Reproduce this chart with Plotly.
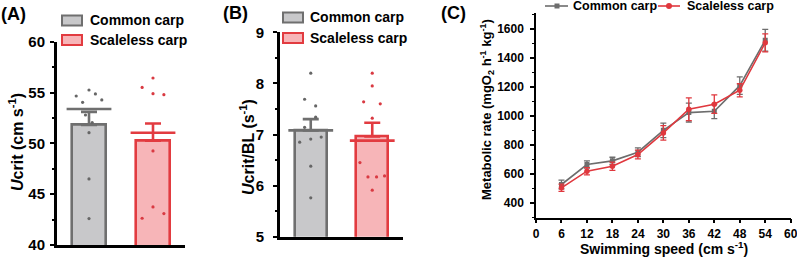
import plotly.graph_objects as go

W, H = 797, 257
FONT = "Arial, Liberation Sans, sans-serif"

# ---------------- data ----------------
groups = ["Common carp", "Scaleless carp"]

ucrit_mean = [51.8, 50.25]
ucrit_se = [1.3, 1.7]
ucrit_line = [53.38, 51.05]
ucrit_common_pts = [54.66, 55.25, 54.86, 54.04, 54.27, 52.79, 52.04, 51.05, 46.5, 42.6]
ucrit_scaleless_pts = [56.43, 55.5, 54.89, 54.79, 49.25, 43.75, 42.63, 43.09]

bl_mean = [7.08, 6.96]
bl_se = [0.22, 0.27]
bl_line = [7.08, 6.88]
bl_common_pts = [8.20, 7.69, 7.56, 7.34, 7.14, 6.85, 6.91, 6.95, 6.38, 5.76]
bl_scaleless_pts = [8.20, 7.95, 7.64, 7.60, 7.32, 6.45, 6.17, 6.17, 6.19, 5.91]

speeds = [6, 12, 18, 24, 30, 36, 42, 48, 54]
mr_common = [529, 667, 692, 752, 903, 1025, 1034, 1211, 1524]
mr_common_se = [30, 25, 25, 30, 50, 65, 50, 60, 75]
mr_scaleless = [506, 621, 655, 736, 885, 1048, 1083, 1179, 1506]
mr_scaleless_se = [25, 25, 28, 30, 50, 78, 64, 45, 62]

# horizontal jitter of individual points (category units)
jit_a_common = [-0.2, 0, 0.1, -0.1, 0.2, -0.055, 0.05, 0, 0, 0]
jit_a_scaleless = [0, -0.17, 0, 0.17, 0, 0, -0.17, 0.17]
jit_b_common = [0, -0.1, 0.08, 0.08, -0.1, -0.18, 0, 0.17, 0, 0]
jit_b_scaleless = [0, 0, -0.14, 0.13, 0, -0.2, -0.07, 0.07, 0.2, 0]

# ---------------- styles ----------------
GRAY_FILL, GRAY_LINE, GRAY_PT = "#c8c8ca", "#6f6f6f", "#666666"
RED_FILL, RED_LINE, RED_PT = "#f7b5b8", "#e23b40", "#d93a42"
fills = [GRAY_FILL, RED_FILL]
lines = [GRAY_LINE, RED_LINE]

def px_x(p):
    return p / W

def px_y(p):
    return 1 - p / H

fig = go.Figure()

def bar_panel(xa, ya, means, ses, wide, pts_c, pts_s, jit_c, jit_s):
    for i in range(2):
        fig.add_trace(go.Bar(
            x=[i], y=[means[i]], width=0.52, xaxis=xa, yaxis=ya,
            marker=dict(color=fills[i], line=dict(color=lines[i], width=2.6)),
            error_y=dict(type="data", symmetric=False, array=[ses[i]], arrayminus=[0],
                         color=lines[i], thickness=2.6, width=8),
            showlegend=False))
        fig.add_trace(go.Scatter(
            x=[i], y=[wide[i]], xaxis=xa, yaxis=ya, mode="markers",
            marker=dict(symbol="line-ew", size=32, line=dict(color=lines[i], width=2.6)),
            showlegend=False, cliponaxis=False))
    fig.add_trace(go.Scatter(
        x=[0 + j for j in jit_c], y=pts_c, xaxis=xa, yaxis=ya, mode="markers",
        marker=dict(color=GRAY_PT, size=3.2), showlegend=False, cliponaxis=False))
    fig.add_trace(go.Scatter(
        x=[1 + j for j in jit_s], y=pts_s, xaxis=xa, yaxis=ya, mode="markers",
        marker=dict(color=RED_PT, size=3.2), showlegend=False, cliponaxis=False))

bar_panel("x", "y", ucrit_mean, ucrit_se, ucrit_line,
          ucrit_common_pts, ucrit_scaleless_pts, jit_a_common, jit_a_scaleless)
bar_panel("x2", "y2", bl_mean, bl_se, bl_line,
          bl_common_pts, bl_scaleless_pts, jit_b_common, jit_b_scaleless)

# Panel C
fig.add_trace(go.Scatter(
    x=speeds, y=mr_common, xaxis="x3", yaxis="y3", mode="lines+markers",
    line=dict(color="#6d6d6d", width=1.6),
    marker=dict(symbol="square", size=5, color="#6d6d6d"),
    error_y=dict(type="data", array=mr_common_se, color="#6d6d6d", thickness=1.3, width=3),
    showlegend=False))
fig.add_trace(go.Scatter(
    x=speeds, y=mr_scaleless, xaxis="x3", yaxis="y3", mode="lines+markers",
    line=dict(color="#e0383e", width=1.6),
    marker=dict(symbol="circle", size=5.5, color="#e0383e"),
    error_y=dict(type="data", array=mr_scaleless_se, color="#e0383e", thickness=1.3, width=3),
    showlegend=False))

tickfont_big = dict(family=FONT, size=15, color="black", weight="bold")
tickfont_small = dict(family=FONT, size=12, color="black", weight="bold")

def cat_x(domain, anchor):
    return dict(domain=domain, range=[-0.5, 1.5], showline=True, linewidth=3,
                linecolor="black", showticklabels=False, ticks="", showgrid=False,
                zeroline=False, fixedrange=True, automargin=False, anchor=anchor)

fig.update_layout(
    template="none",
    width=W, height=H, margin=dict(l=0, r=0, t=0, b=0, autoexpand=False),
    paper_bgcolor="white", plot_bgcolor="white", bargap=0, showlegend=False,
    font=dict(family=FONT, color="black"),
    xaxis=cat_x([px_x(57), px_x(185)], "y"),
    yaxis=dict(domain=[px_y(245), px_y(41.7)], range=[40, 60], tickvals=[40, 45, 50, 55, 60],
               anchor="x", automargin=False,
               showline=True, linewidth=3, linecolor="black", ticks="outside", ticklen=4,
               tickwidth=2, tickcolor="black", tickfont=tickfont_big, showgrid=False,
               zeroline=False, ticklabelstandoff=2,
               minor=dict(dtick=2.5, ticks="outside", ticklen=2, tickwidth=1.5, tickcolor="black")),
    xaxis2=cat_x([px_x(280), px_x(403)], "y2"),
    yaxis2=dict(domain=[px_y(236.7), px_y(32.3)], range=[5, 9], tickvals=[5, 6, 7, 8, 9],
                anchor="x2", automargin=False, showline=True, linewidth=3, linecolor="black",
                ticks="outside", ticklen=4, tickwidth=2, tickcolor="black", tickfont=tickfont_big,
                showgrid=False, zeroline=False, ticklabelstandoff=6,
                minor=dict(dtick=0.5, ticks="outside", ticklen=2, tickwidth=1.5, tickcolor="black")),
    xaxis3=dict(domain=[px_x(536), px_x(790.7)], range=[0, 60], tickvals=list(range(0, 61, 6)),
                anchor="y3", automargin=False, ticklabeloverflow="allow",
                showline=True, linewidth=1.5, linecolor="black", ticks="outside",
                ticklen=4, tickwidth=1.5, tickcolor="black", tickfont=tickfont_small,
                showgrid=False, zeroline=False),
    yaxis3=dict(domain=[px_y(217.7), px_y(13.3)], range=[300, 1710],
                tickvals=[400, 600, 800, 1000, 1200, 1400, 1600], anchor="x3", automargin=False,
                showline=True, linewidth=1.5, linecolor="black", ticks="outside", ticklen=4,
                tickwidth=1.5, tickcolor="black", tickfont=tickfont_small, showgrid=False,
                zeroline=False, ticklabelstandoff=4,
                minor=dict(dtick=100, ticks="outside", ticklen=2, tickwidth=1, tickcolor="black")),
)

ann = []
def text(x, y, s, size, xanchor="center", yanchor="middle", angle=0):
    ann.append(dict(x=px_x(x), y=px_y(y), xref="paper", yref="paper", text=s,
                    showarrow=False, xanchor=xanchor, yanchor=yanchor, textangle=angle,
                    font=dict(family=FONT, size=size, color="black")))

# Panel labels
text(13, 14, "<b>(A)</b>", 18)
text(235, 13, "<b>(B)</b>", 18)
text(453, 13, "<b>(C)</b>", 18)

# Axis titles
text(16, 142, "<b><i>U</i>crit (cm s<sup>-1</sup>)</b>", 16, angle=-90)
text(247, 147, "<b><i>U</i>crit/BL (s<sup>-1</sup>)</b>", 16, angle=-90)
text(487, 110, "<b>Metabolic rate (mgO<sub>2</sub> h<sup>-1</sup> kg<sup>-1</sup>)</b>", 13, angle=-90)
text(664, 248, "<b>Swimming speed (cm s<sup>-1</sup>)</b>", 14)

shapes = []
def box(x0, y0, x1, y1, fill, line):
    shapes.append(dict(type="rect", xref="paper", yref="paper",
                       x0=px_x(x0), x1=px_x(x1), y0=px_y(y1), y1=px_y(y0),
                       fillcolor=fill, line=dict(color=line, width=2)))

# Legend A
box(62, 15.5, 82, 25.5, GRAY_FILL, GRAY_LINE)
box(62, 35, 82, 45, RED_FILL, RED_LINE)
text(88, 20.5, "<b>Common carp</b>", 14, xanchor="left")
text(88, 40, "<b>Scaleless carp</b>", 14, xanchor="left")
# Legend B
box(283, 12.5, 303, 22.5, GRAY_FILL, GRAY_LINE)
box(283, 33, 303, 43, RED_FILL, RED_LINE)
text(308, 17.5, "<b>Common carp</b>", 14, xanchor="left")
text(308, 38, "<b>Scaleless carp</b>", 14, xanchor="left")

# Legend C
def seg(x0, x1, y, color):
    shapes.append(dict(type="line", xref="paper", yref="paper",
                       x0=px_x(x0), x1=px_x(x1), y0=px_y(y), y1=px_y(y),
                       line=dict(color=color, width=1.6)))
seg(545, 568, 6, "#6d6d6d")
shapes.append(dict(type="rect", xref="paper", yref="paper", x0=px_x(554.5), x1=px_x(559.5),
                   y0=px_y(8.5), y1=px_y(3.5), fillcolor="#6d6d6d", line=dict(width=0)))
text(571, 6, "<b>Common carp</b>", 12.5, xanchor="left")
seg(658, 680, 6, "#e0383e")
shapes.append(dict(type="circle", xref="paper", yref="paper", x0=px_x(666), x1=px_x(672),
                   y0=px_y(9), y1=px_y(3), fillcolor="#e0383e", line=dict(width=0)))
text(685, 6, "<b>Scaleless carp</b>", 12.5, xanchor="left")

fig.update_layout(annotations=ann, shapes=shapes)
fig.write_html("out.html", config={"displayModeBar": False},
               post_script="document.body.style.margin='0';document.body.style.overflow='hidden';")
